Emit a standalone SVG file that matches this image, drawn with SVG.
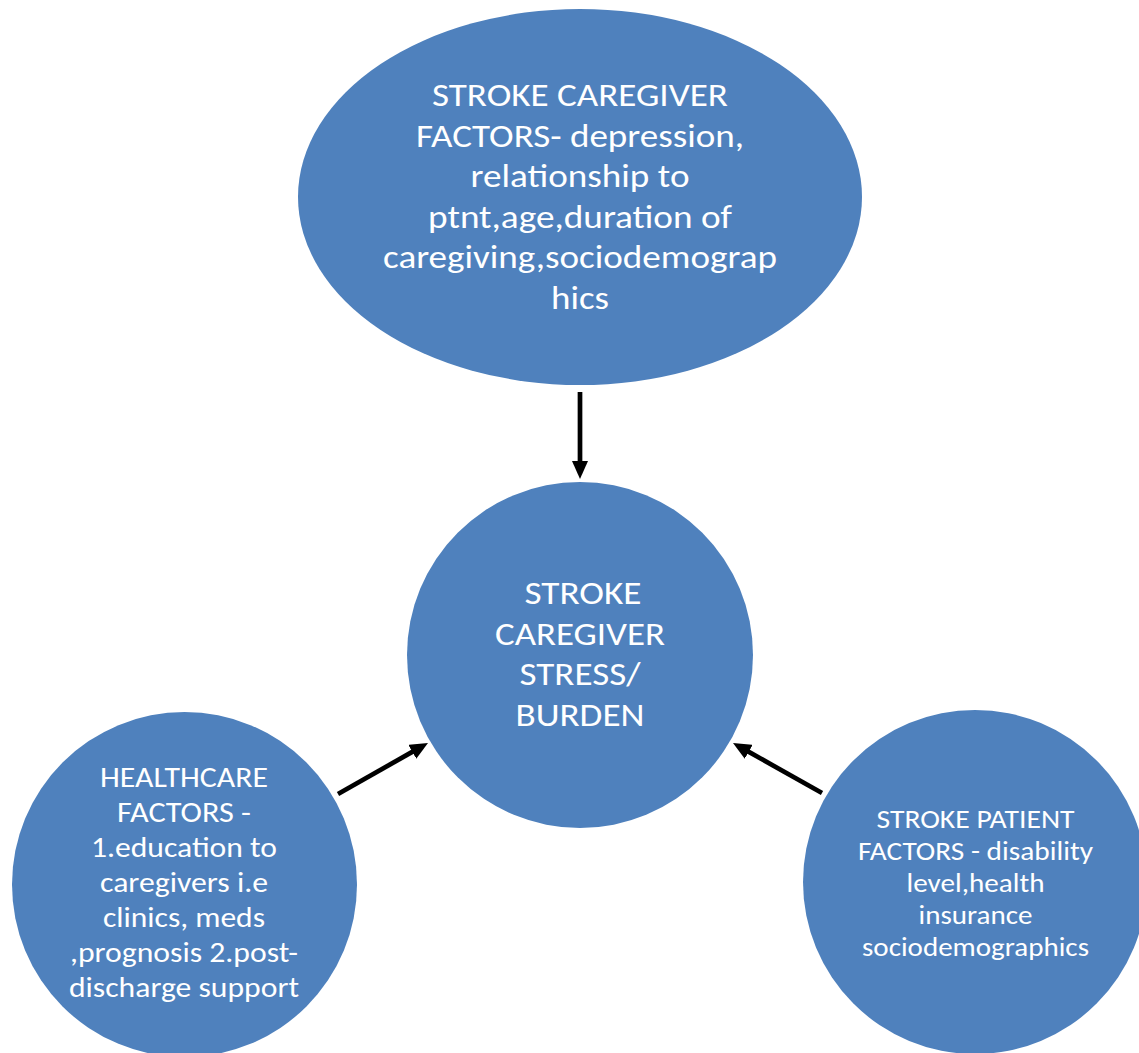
<svg xmlns="http://www.w3.org/2000/svg" width="1139" height="1053" viewBox="0 0 1139 1053">
  <style>
    .node { fill: #4F81BD; }
    .t { fill: #FFFFFF; font-family: Carlito, Calibri, Lato, "Open Sans", sans-serif; text-anchor: middle; }
    .big { font-size: 33px; }
    .mid { font-size: 28.5px; }
    .sm { font-size: 26px; }
    .conn { stroke: #000000; stroke-width: 4.7; fill: none; marker-end: url(#arrow); }
  </style>
  <defs>
    <marker id="arrow" markerUnits="userSpaceOnUse" markerWidth="18" markerHeight="16" refX="8" refY="8" orient="auto">
      <path d="M0,0 L18,8 L0,16 z" fill="#000000"/>
    </marker>
  </defs>
  <rect width="1139" height="1053" fill="#FFFFFF"/>

  <g id="caregiver-factors">
    <ellipse class="node" cx="580" cy="197" rx="282" ry="188"/>
    <text class="t big" x="580" y="106" textLength="296" lengthAdjust="spacingAndGlyphs">STROKE CAREGIVER</text>
    <text class="t big" x="580" y="147" textLength="328" lengthAdjust="spacingAndGlyphs">FACTORS- depression,</text>
    <text class="t big" x="580" y="187" textLength="219" lengthAdjust="spacingAndGlyphs">relationship to</text>
    <text class="t big" x="580" y="228" textLength="304" lengthAdjust="spacingAndGlyphs">ptnt,age,duration of</text>
    <text class="t big" x="580" y="268" textLength="394" lengthAdjust="spacingAndGlyphs">caregiving,sociodemograp</text>
    <text class="t big" x="580" y="309" textLength="58" lengthAdjust="spacingAndGlyphs">hics</text>
  </g>

  <g id="stress-burden">
    <circle class="node" cx="580" cy="655" r="173"/>
    <text class="t big" x="583" y="604" textLength="117" lengthAdjust="spacingAndGlyphs">STROKE</text>
    <text class="t big" x="580" y="645" textLength="170" lengthAdjust="spacingAndGlyphs">CAREGIVER</text>
    <text class="t big" x="580" y="685" textLength="121" lengthAdjust="spacingAndGlyphs">STRESS/</text>
    <text class="t big" x="580" y="726" textLength="129" lengthAdjust="spacingAndGlyphs">BURDEN</text>
  </g>

  <g id="healthcare-factors">
    <circle class="node" cx="184.5" cy="884.5" r="172.5"/>
    <text class="t mid" x="184" y="787" textLength="168" lengthAdjust="spacingAndGlyphs">HEALTHCARE</text>
    <text class="t mid" x="184" y="822" textLength="134" lengthAdjust="spacingAndGlyphs">FACTORS -</text>
    <text class="t mid" x="184" y="857" textLength="186" lengthAdjust="spacingAndGlyphs">1.education to</text>
    <text class="t mid" x="184" y="892" textLength="168" lengthAdjust="spacingAndGlyphs">caregivers i.e</text>
    <text class="t mid" x="184" y="927" textLength="162" lengthAdjust="spacingAndGlyphs">clinics, meds</text>
    <text class="t mid" x="184" y="962" textLength="228" lengthAdjust="spacingAndGlyphs">,prognosis 2.post-</text>
    <text class="t mid" x="184" y="997" textLength="230" lengthAdjust="spacingAndGlyphs">discharge support</text>
  </g>

  <g id="patient-factors">
    <circle class="node" cx="975" cy="882" r="172"/>
    <text class="t sm" x="975.5" y="828" textLength="198" lengthAdjust="spacingAndGlyphs">STROKE PATIENT</text>
    <text class="t sm" x="975.5" y="860" textLength="235" lengthAdjust="spacingAndGlyphs">FACTORS - disability</text>
    <text class="t sm" x="975.5" y="892" textLength="138" lengthAdjust="spacingAndGlyphs">level,health</text>
    <text class="t sm" x="975.5" y="924" textLength="114" lengthAdjust="spacingAndGlyphs">insurance</text>
    <text class="t sm" x="975.5" y="956" textLength="227" lengthAdjust="spacingAndGlyphs">sociodemographics</text>
  </g>

  <g id="connectors">
    <line class="conn" x1="580" y1="392" x2="580" y2="469"/>
    <line class="conn" x1="338" y1="794" x2="419.3" y2="747.9"/>
    <line class="conn" x1="822" y1="793" x2="741.7" y2="747.9"/>
  </g>
</svg>
